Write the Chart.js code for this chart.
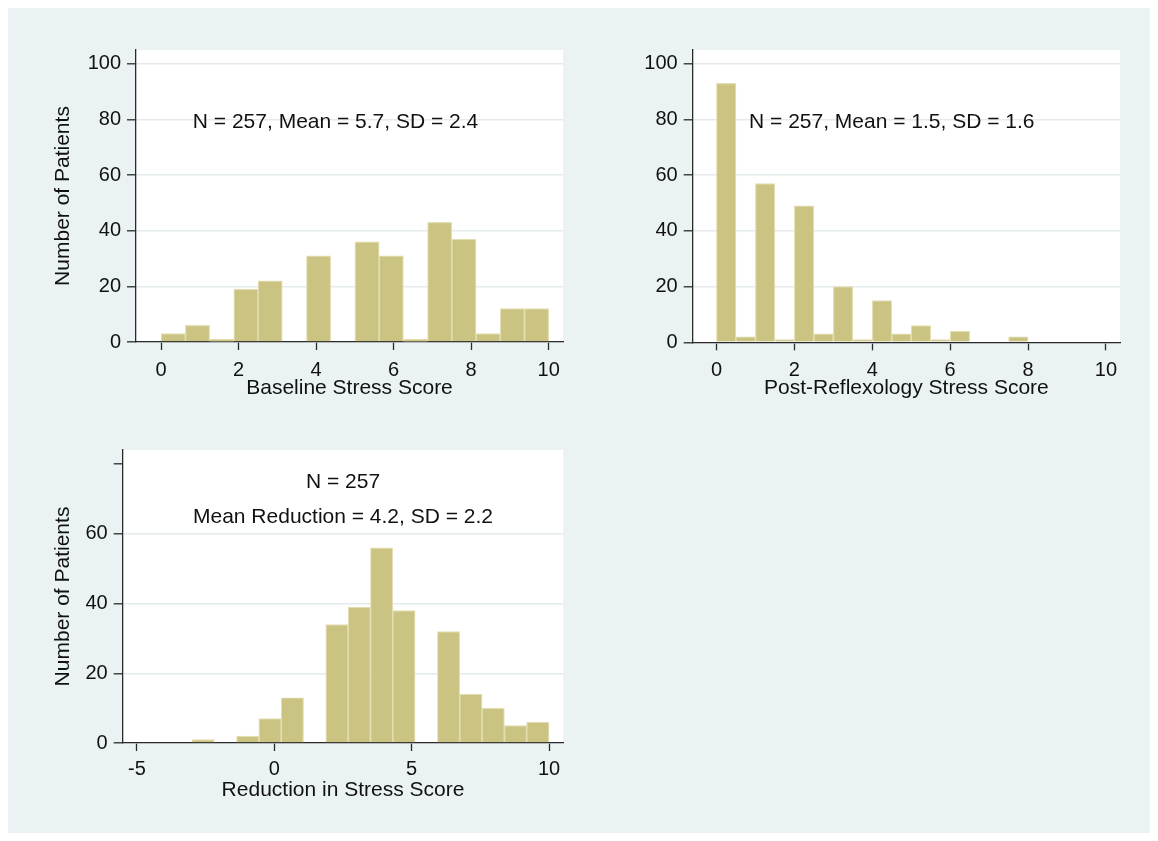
<!DOCTYPE html>
<html>
<head>
<meta charset="utf-8">
<script src="https://cdn.jsdelivr.net/npm/chart.js@4.4.0/dist/chart.umd.min.js"></script>
<style>
  body { margin: 0; background: #ffffff; }
  .bg { position: absolute; left: 8px; top: 8px; width: 1142px; height: 825px; background: #eaf2f3; }
  canvas { position: absolute; }
</style>
</head>
<body>
<div class="bg"></div>
<canvas id="chart1" width="560" height="400" style="left:20px;top:20px"></canvas>
<canvas id="chart2" width="540" height="400" style="left:600px;top:20px"></canvas>
<canvas id="chart3" width="560" height="400" style="left:20px;top:420px"></canvas>
<script>
// histogram counts, 16 bins each
var baselineCounts = [3, 6, 1, 19, 22, 0, 31, 0, 36, 31, 1, 43, 37, 3, 12, 12];
var baselineBinStart = 0;
var baselineBinWidth = 0.625;

var postCounts = [93, 2, 57, 1, 49, 3, 20, 1, 15, 3, 6, 1, 4, 0, 0, 2];
var postBinStart = 0;
var postBinWidth = 0.5;

var reductionCounts = [1, 0, 2, 7, 13, 0, 34, 39, 56, 38, 0, 32, 14, 10, 5, 6];
var reductionBinStart = -3;
var reductionBinWidth = 0.8125;

// tick labels
var scoreTicks = [0, 2, 4, 6, 8, 10];
var reductionTicks = [-5, 0, 5, 10];
var countTicks = [0, 20, 40, 60, 80, 100];
var reductionCountTicks = [0, 20, 40, 60, 80];
var reductionCountLabels = [0, 20, 40, 60];

// text notes placed in data units
var baselineNotes = [{ text: 'N = 257, Mean = 5.7, SD = 2.4', x: 4.5, y: 79 }];
var postNotes = [{ text: 'N = 257, Mean = 1.5, SD = 1.6', x: 4.5, y: 79 }];
var reductionNotes = [
  { text: 'N = 257', x: 2.5, y: 74.8 },
  { text: 'Mean Reduction = 4.2, SD = 2.2', x: 2.5, y: 64.7 }
];

var FONT = '"Liberation Sans", Arial, Helvetica, sans-serif';
var INK = '#111111';
var AXIS = '#2a2a2a';
var GRID = '#e3ebed';

function makeHistogram(id, o) {
  var points = o.counts.map(function (c, i) {
    return { x: o.binStart + (i + 0.5) * o.binWidth, y: c };
  });

  var plotBackground = {
    id: 'plotBackground',
    beforeDraw: function (chart) {
      var a = chart.chartArea;
      chart.ctx.save();
      chart.ctx.fillStyle = '#ffffff';
      chart.ctx.fillRect(a.left, a.top, a.right - a.left, a.bottom - a.top);
      chart.ctx.restore();
    }
  };

  var notes = {
    id: 'notes',
    afterDatasetsDraw: function (chart) {
      var ctx = chart.ctx;
      ctx.save();
      ctx.font = '21px ' + FONT;
      ctx.fillStyle = INK;
      ctx.textAlign = 'center';
      ctx.textBaseline = 'middle';
      o.notes.forEach(function (n) {
        ctx.fillText(n.text, chart.scales.x.getPixelForValue(n.x), chart.scales.y.getPixelForValue(n.y));
      });
      ctx.restore();
    }
  };

  return new Chart(id, {
    type: 'bar',
    data: {
      datasets: [{
        data: points,
        backgroundColor: '#cac381',
        borderColor: '#e2ddb2',
        borderWidth: 1.2,
        barPercentage: 1,
        categoryPercentage: 1
      }]
    },
    plugins: [plotBackground, notes],
    options: {
      responsive: false,
      animation: false,
      layout: { padding: { left: 0, top: 30, right: o.padRight, bottom: 0 } },
      plugins: { legend: { display: false }, tooltip: { enabled: false } },
      scales: {
        x: {
          type: 'linear',
          min: o.xMin,
          max: o.xMax,
          offset: false,
          afterBuildTicks: function (s) { s.ticks = o.xTicks.map(function (v) { return { value: v }; }); },
          afterFit: function (s) { s.height = o.xHeight; },
          grid: { drawOnChartArea: false, offset: false, tickLength: 8, tickColor: AXIS, tickWidth: 1.3 },
          border: { display: true, color: AXIS, width: 1.3 },
          ticks: { color: INK, padding: o.xTickPad, maxRotation: 0, font: { family: FONT, size: 20, lineHeight: 1.2 } },
          title: {
            display: true,
            text: o.xTitle,
            color: INK,
            padding: { top: 0, bottom: o.xTitlePad },
            font: { family: FONT, size: 21, lineHeight: 1.2 }
          }
        },
        y: {
          min: 0,
          max: o.yMax,
          afterBuildTicks: function (s) { s.ticks = o.yTicks.map(function (v) { return { value: v }; }); },
          afterFit: function (s) { s.width = o.yWidth; },
          grid: {
            color: function (c) { return (c.tick && o.yLabels.indexOf(c.tick.value) >= 0) ? GRID : 'rgba(0,0,0,0)'; },
            lineWidth: 1.6,
            tickLength: 9,
            tickColor: AXIS,
            tickWidth: 1.3
          },
          border: { display: true, color: AXIS, width: 1.3 },
          ticks: {
            color: INK,
            padding: 6,
            font: { family: FONT, size: 20, lineHeight: 1.2 },
            callback: function (v) { return o.yLabels.indexOf(v) >= 0 ? String(v) : ''; }
          },
          title: {
            display: !!o.yTitle,
            text: o.yTitle || '',
            color: INK,
            padding: { top: 30.4, bottom: 0 },
            font: { family: FONT, size: 21, lineHeight: 1.2 }
          }
        }
      }
    }
  });
}

makeHistogram('chart1', {
  counts: baselineCounts, binStart: baselineBinStart, binWidth: baselineBinWidth,
  xMin: -0.65, xMax: 10.37, xTicks: scoreTicks, xTitle: 'Baseline Stress Score',
  yMax: 105, yTicks: countTicks, yLabels: countTicks, yTitle: 'Number of Patients',
  notes: baselineNotes,
  yWidth: 116, xHeight: 78, padRight: 17, xTickPad: 8, xTitlePad: 19.4
});

makeHistogram('chart2', {
  counts: postCounts, binStart: postBinStart, binWidth: postBinWidth,
  xMin: -0.61, xMax: 10.36, xTicks: scoreTicks, xTitle: 'Post-Reflexology Stress Score',
  yMax: 105, yTicks: countTicks, yLabels: countTicks, yTitle: null,
  notes: postNotes,
  yWidth: 92.7, xHeight: 77.7, padRight: 20, xTickPad: 8, xTitlePad: 19.4
});

makeHistogram('chart3', {
  counts: reductionCounts, binStart: reductionBinStart, binWidth: reductionBinWidth,
  xMin: -5.52, xMax: 10.52, xTicks: reductionTicks, xTitle: 'Reduction in Stress Score',
  yMax: 84.1, yTicks: reductionCountTicks, yLabels: reductionCountLabels, yTitle: 'Number of Patients',
  notes: reductionNotes,
  yWidth: 102.7, xHeight: 77, padRight: 16.7, xTickPad: 6, xTitlePad: 17.4
});
</script>
</body>
</html>
